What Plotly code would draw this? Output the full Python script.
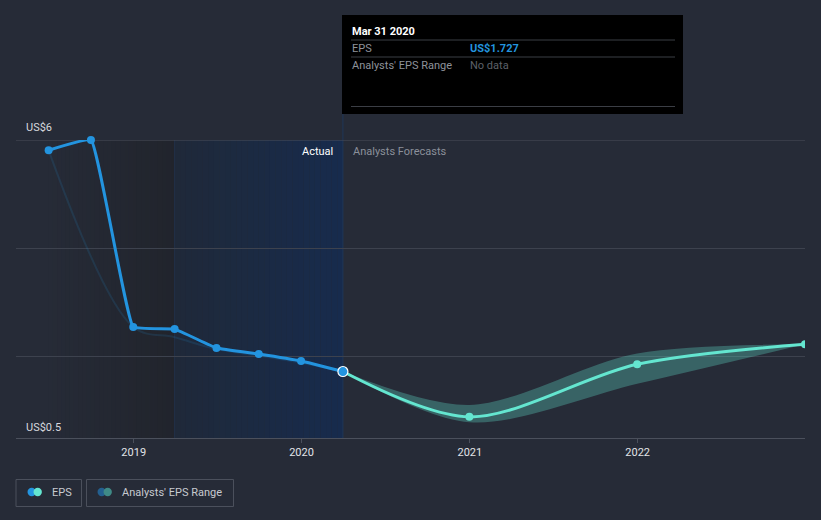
import plotly.graph_objects as go
import pandas as pd

# ---------------- data ----------------
actual_dates = ["2018-06-30", "2018-09-30", "2018-12-31", "2019-03-31",
                "2019-06-30", "2019-09-30", "2019-12-31", "2020-03-31"]
actual_eps = [5.81, 6.00, 2.55, 2.51, 2.16, 2.05, 1.92, 1.727]

forecast_dates = ["2020-03-31", "2020-12-31", "2021-12-31", "2022-12-31"]
forecast_eps = [1.727, 0.89, 1.86, 2.23]
range_low = [1.727, 0.79, 1.50, 2.23]
range_high = [1.727, 1.11, 2.06, 2.23]

past_range_dates = ["2018-06-30", "2018-12-31", "2019-03-31", "2019-06-30",
                    "2019-09-30", "2019-12-31", "2020-03-31"]
past_range_vals = [5.81, 2.55, 2.36, 2.14, 2.02, 1.89, 1.727]

y_tick_vals = [2, 4, 6]
y_labels = {6: "US$6", 0.5: "US$0.5"}
x_range = ["2018-04-20", "2022-12-31"]
y_range = [0.5, 6]

# ---------------- style ----------------
W, H = 821, 520
BG = "#262b37"
BLUE = "#2394df"
TEAL = "#64e6d0"
FONT = "Roboto"


def PX(x):
    return x / W


def PY(y):
    return 1 - y / H


def hexrgb(h):
    h = h.lstrip("#")
    return tuple(int(h[i:i + 2], 16) for i in (0, 2, 4))


def mix(c1, c2, t):
    a, b = hexrgb(c1), hexrgb(c2)
    return "rgb(%d,%d,%d)" % tuple(round(a[i] + (b[i] - a[i]) * t) for i in range(3))


fig = go.Figure()

# past analysts range (faint)
fig.add_trace(go.Scatter(
    x=past_range_dates, y=past_range_vals, mode="lines",
    line=dict(color="rgba(35,148,223,0.14)", width=2, shape="spline", smoothing=1.0),
    hoverinfo="skip", showlegend=False))

# forecast range band
fig.add_trace(go.Scatter(
    x=forecast_dates, y=range_low, mode="lines",
    line=dict(color="rgba(0,0,0,0)", width=0, shape="spline", smoothing=0.9),
    hoverinfo="skip", showlegend=False))
fig.add_trace(go.Scatter(
    x=forecast_dates, y=range_high, mode="lines", fill="tonexty",
    fillcolor="rgba(100,230,208,0.30)",
    line=dict(color="rgba(0,0,0,0)", width=0, shape="spline", smoothing=0.9),
    hoverinfo="skip", showlegend=False))

# forecast EPS
fig.add_trace(go.Scatter(
    x=forecast_dates, y=forecast_eps, mode="lines+markers",
    line=dict(color=TEAL, width=3, shape="spline", smoothing=0.9),
    marker=dict(color=TEAL, size=8),
    hoverinfo="skip", showlegend=False))

# actual EPS
fig.add_trace(go.Scatter(
    x=actual_dates, y=actual_eps, mode="lines+markers", cliponaxis=False,
    line=dict(color=BLUE, width=3, shape="spline", smoothing=0.28),
    marker=dict(color=BLUE, size=8),
    hoverinfo="skip", showlegend=False))

# highlighted last point
fig.add_trace(go.Scatter(
    x=[actual_dates[-1]], y=[actual_eps[-1]], mode="markers",
    marker=dict(color=BLUE, size=10, line=dict(color="white", width=1.2)),
    hoverinfo="skip", showlegend=False))

shapes = []

# darker gradient region before the last-year highlight
d0 = pd.Timestamp(actual_dates[0])
d1 = pd.Timestamp(actual_dates[3])
d2 = pd.Timestamp(actual_dates[-1])
N = 30
edges = pd.date_range(d0, d1, periods=N + 1)
for i in range(N):
    shapes.append(dict(type="rect", xref="x", yref="paper", layer="below",
                       x0=edges[i], x1=edges[i + 1], y0=PY(438), y1=PY(140),
                       fillcolor=mix(BG, "#21242c", (i + 0.5) / N), line=dict(width=0)))
edges = pd.date_range(d1, d2, periods=N + 1)
for i in range(N):
    shapes.append(dict(type="rect", xref="x", yref="paper", layer="below",
                       x0=edges[i], x1=edges[i + 1], y0=PY(438), y1=PY(140),
                       fillcolor=mix("#1f2939", "#172b4d", (i + 0.5) / N), line=dict(width=0)))
shapes.append(dict(type="line", xref="x", yref="paper", layer="below",
                   x0=d1, x1=d1, y0=PY(438), y1=PY(140),
                   line=dict(color="#213049", width=1)))
shapes.append(dict(type="line", xref="x", yref="paper", layer="below",
                   x0=d2, x1=d2, y0=PY(438), y1=PY(114),
                   line=dict(color="#1f3658", width=1)))
# top gridline (edge of range)
shapes.append(dict(type="line", xref="paper", yref="y", layer="below",
                   x0=PX(16), x1=PX(805), y0=6, y1=6,
                   line=dict(color="#4a4f5b", width=1)))

# tooltip box
shapes.append(dict(type="rect", xref="paper", yref="paper",
                   x0=PX(342), x1=PX(683), y0=PY(114), y1=PY(15),
                   fillcolor="#000000", line=dict(width=0)))
for yy in (40, 57, 106.5):
    shapes.append(dict(type="line", xref="paper", yref="paper",
                       x0=PX(351), x1=PX(675), y0=PY(yy), y1=PY(yy),
                       line=dict(color="#3b3e45", width=1)))

# legend boxes
for (bx0, bx1) in ((16, 81.5), (86.5, 233.5)):
    shapes.append(dict(type="rect", xref="paper", yref="paper",
                       x0=PX(bx0), x1=PX(bx1), y0=PY(506.5), y1=PY(479.5),
                       fillcolor="rgba(0,0,0,0)", line=dict(color="#4b505c", width=1)))


def circle(cx, cy, r, color):
    return dict(type="circle", xref="paper", yref="paper",
                x0=PX(cx - r), x1=PX(cx + r), y0=PY(cy + r), y1=PY(cy - r),
                fillcolor=color, line=dict(width=0))


shapes += [circle(31.7, 492, 4.2, BLUE), circle(37.7, 492, 4.2, TEAL),
           circle(101.7, 492, 4.2, "#235f8f"), circle(107.7, 492, 4.2, "#3f8a86")]

annotations = []


def txt(x, y, s, color, size=11, anchor="left", bold=False):
    annotations.append(dict(xref="paper", yref="paper", x=PX(x), y=PY(y),
                            text=("<b>%s</b>" % s) if bold else s, showarrow=False,
                            xanchor=anchor, yanchor="middle",
                            font=dict(family=FONT, size=size, color=color)))


txt(24, 127, y_labels[6], "#d6d9de")
txt(24, 427, y_labels[0.5], "#d6d9de")
txt(334.5, 151, "Actual", "#ffffff", anchor="right")
txt(351, 151, "Analysts Forecasts", "#8b909a")

last_date = pd.Timestamp(actual_dates[-1])
txt(350, 31, last_date.strftime("%b %d %Y"), "#ffffff", bold=True)
txt(350, 48, "EPS", "#8e929a")
txt(468, 48, "US$%.3f" % actual_eps[-1], BLUE, bold=True)
txt(350, 65, "Analysts' EPS Range", "#8e929a")
txt(468, 65, "No data", "#5d6169")

txt(49.5, 492, "EPS", "#c6cad0")
txt(119.5, 492, "Analysts' EPS Range", "#c6cad0")

fig.update_layout(
    width=W, height=H, autosize=False,
    margin=dict(l=0, r=0, t=0, b=0),
    paper_bgcolor=BG, plot_bgcolor="rgba(0,0,0,0)",
    showlegend=False, hovermode=False,
    shapes=shapes, annotations=annotations,
    xaxis=dict(domain=[PX(16), PX(805)], type="date", range=x_range,
               tick0="2019-01-01", dtick="M12", tickformat="%Y",
               showgrid=False, zeroline=False,
               showline=True, linecolor="#4b505c", linewidth=1,
               ticks="outside", ticklen=4, tickcolor="#4b505c",
               tickfont=dict(family=FONT, size=11, color="#e2e4e8")),
    yaxis=dict(domain=[PY(438), PY(140)], range=y_range,
               tickvals=y_tick_vals, showticklabels=False,
               showgrid=True, gridcolor="#3d424e", gridwidth=1,
               zeroline=False, showline=False),
)

fig.write_html("out.html", config={"displayModeBar": False})
